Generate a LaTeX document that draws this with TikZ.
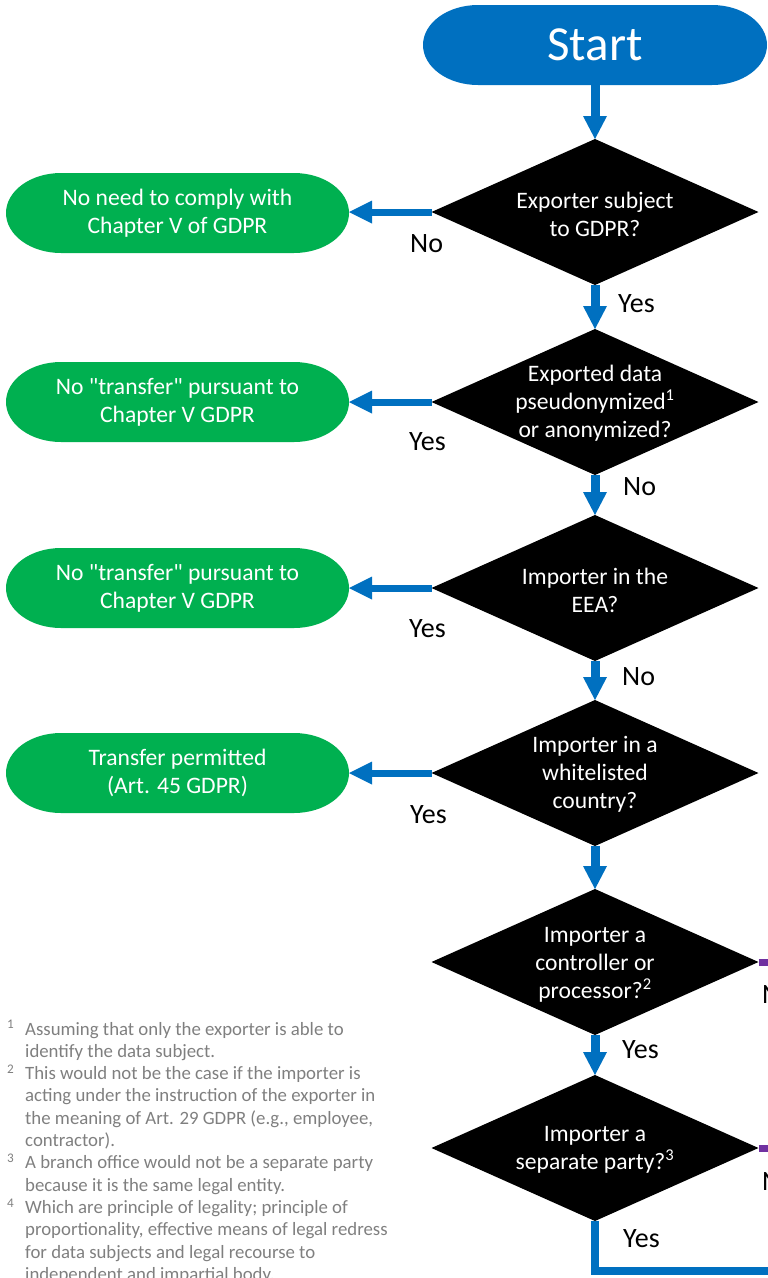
\documentclass[tikz,border=0pt]{standalone}
\usepackage{fontspec}
\setmainfont{Carlito}[Ligatures=TeXOff]
\usetikzlibrary{shapes.geometric,arrows.meta}
\definecolor{flowblue}{HTML}{0070C0}
\definecolor{flowgreen}{HTML}{00B050}
\definecolor{flowpurple}{HTML}{7030A0}
\definecolor{notegray}{HTML}{7F7F7F}
\begin{document}
\begin{tikzpicture}[x=1pt,y=-1pt,
  term/.style={rectangle, minimum width=343pt, minimum height=80pt, inner sep=0pt, outer sep=0pt,
    align=center, text=white, font=\fontsize{23.6}{28}\selectfont,
    path picture={\fill[#1]
      ([xshift=55pt]path picture bounding box.north west) --
      ([xshift=-55pt]path picture bounding box.north east)
      arc[start angle=90,end angle=-90,x radius=55pt,y radius=40pt] --
      ([xshift=55pt]path picture bounding box.south west)
      arc[start angle=270,end angle=90,x radius=55pt,y radius=40pt] -- cycle;}},
  dia/.style={diamond, fill=black, minimum width=327pt, minimum height=146pt, inner sep=0pt, outer sep=0pt},
  dtext/.style={align=center, text=white, font=\fontsize{23.6}{28.2}\selectfont, inner sep=0pt},
  vflow/.style={draw=flowblue, line width=9pt, -{Triangle[width=24pt,length=23pt,line width=0pt]}},
  hflow/.style={draw=flowblue, line width=7pt, -{Triangle[width=23pt,length=23pt,line width=0pt]}},
  lbl/.style={font=\fontsize{28}{32}\selectfont, inner sep=0pt, anchor=base west},
  note/.style={font=\fontsize{18.8}{22.3}\selectfont, text=notegray, align=left, inner sep=0pt, anchor=base west}
]
\useasboundingbox (0,0) rectangle (768,1278);
\clip (0,0) rectangle (768,1278);

% start
\node[term=flowblue, minimum width=344pt, font=\fontsize{49}{56}\selectfont] (start) at (595,45) {Start};

% decisions
\node[dia] (d1) at (595,212) {};
\node[dtext] (t1) at ([yshift=-2pt]d1.center) {Exporter subject\\to GDPR?};
\node[dia] (d2) at (595,402) {};
\node[dtext] (t2) at ([yshift=-1pt]d2.center) {Exported data\\pseudonymized\textsuperscript{1}\\or anonymized?};
\node[dia] (d3) at (595,588) {};
\node[dtext] (t3) at ([yshift=-2pt]d3.center) {Importer in the\\EEA?};
\node[dia] (d4) at (595,773) {};
\node[dtext] (t4) at ([yshift=-1pt]d4.center) {Importer in a\\whitelisted\\country?};
\node[dia] (d5) at (595,962) {};
\node[dtext] (t5) at ([yshift=-3pt]d5.center) {Importer a\\controller or\\processor?\textsuperscript{2}};
\node[dia] (d6) at (595,1148) {};
\node[dtext] (t6) at ([yshift=-2pt]d6.center) {Importer a\\separate party?\textsuperscript{3}};

% outcomes
\node[term=flowgreen] (g1) at (177.5,213) {No need to comply with\\Chapter V of GDPR};
\node[term=flowgreen] (g2) at (177.5,402) {No "transfer" pursuant to\\Chapter V GDPR};
\node[term=flowgreen] (g3) at (177.5,588) {No "transfer" pursuant to\\Chapter V GDPR};
\node[term=flowgreen] (g4) at (177.5,773) {Transfer permitted\\(Art. 45 GDPR)};

% connectors
\draw[vflow] (start.south) -- (d1.north);
\draw[vflow] (d1.south) -- (d2.north);
\draw[vflow] (d2.south) -- (d3.north);
\draw[vflow] (d3.south) -- (d4.north);
\draw[vflow] (d4.south) -- (d5.north);
\draw[vflow] (d5.south) -- (d6.north);
\draw[hflow] (d1.west) -- (g1.east |- d1.west);
\draw[hflow] (d2.west) -- (g2.east);
\draw[hflow] (d3.west) -- (g3.east);
\draw[hflow] (d4.west) -- (g4.east);
\coordinate (e5) at (790,962);
\coordinate (e6) at (790,1148);
\coordinate (e7) at (790,1271);
\draw[flowpurple, line width=7pt] (d5.east) -- (e5);
\draw[flowpurple, line width=7pt] (d6.east) -- (e6);
\draw[flowblue, line width=8pt] (d6.south) |- (e7);

% labels
\node[lbl] (l1) at (410,252) {No};
\node[lbl] (l2) at (618,312) {Yes};
\node[lbl] (l3) at (409,450) {Yes};
\node[lbl] (l4) at (623,495) {No};
\node[lbl] (l5) at (409,637) {Yes};
\node[lbl] (l6) at (622,685) {No};
\node[lbl] (l7) at (410,823) {Yes};
\node[lbl] (l8) at (622,1058) {Yes};
\node[lbl] (l9) at (762,1003) {No};
\node[lbl] (l10) at (762,1190) {No};
\node[lbl] (l11) at (623,1247) {Yes};

% footnotes (base anchor = last line)
\node[note] (n1) at (25,1057.3) {\llap{\textsuperscript{1}\hspace{11pt}}Assuming that only the exporter is able to\\identify the data subject.};
\node[note] (n2) at (25,1146.5) {\llap{\textsuperscript{2}\hspace{11pt}}This would not be the case if the importer is\\acting under the instruction of the exporter in\\the meaning of Art. 29 GDPR (e.g., employee,\\contractor).};
\node[note] (n3) at (25,1191.1) {\llap{\textsuperscript{3}\hspace{11pt}}A branch office would not be a separate party\\because it is the same legal entity.};
\node[note] (n4) at (25,1280.3) {\llap{\textsuperscript{4}\hspace{11pt}}Which are principle of legality; principle of\\proportionality, effective means of legal redress\\for data subjects and legal recourse to\\independent and impartial body.};
\end{tikzpicture}
\end{document}
